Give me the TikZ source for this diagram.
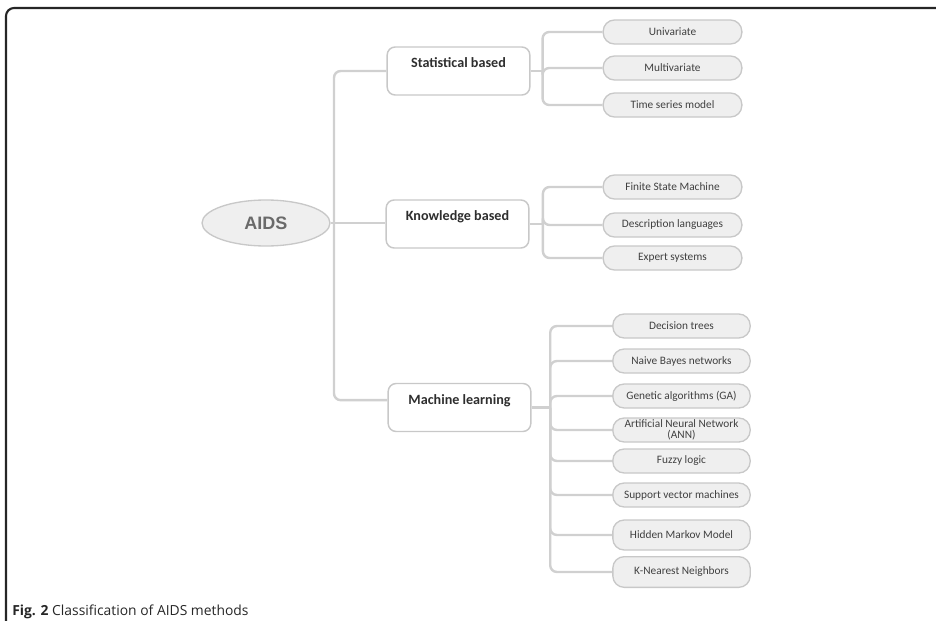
\documentclass[tikz,border=0pt]{standalone}
\usepackage{fontspec}
\setmainfont{Carlito}
\newfontfamily\aidsfont{Liberation Sans}
\newfontfamily\capfont{Open Sans}
\usetikzlibrary{shapes.geometric}

\definecolor{linkgray}{HTML}{D0D0D0}
\definecolor{boxgray}{HTML}{C8C8C8}
\definecolor{leaffill}{HTML}{EFEFEF}
\definecolor{textdark}{HTML}{2E2E2E}
\definecolor{textgray}{HTML}{404040}
\definecolor{aidsgray}{HTML}{6A6A6A}

\tikzset{
  link/.style={draw=linkgray, line width=1.8pt, rounded corners=5pt},
  mainbox/.style={draw=boxgray, fill=white, line width=1.1pt, rounded corners=6pt,
    minimum width=107pt, minimum height=36pt, inner sep=0pt,
    font=\bfseries\fontsize{10.6}{12}\selectfont, text=textdark,
    text height=7.5pt, text depth=12.5pt},
  leafbox/.style={draw=boxgray, fill=leaffill, line width=1pt, rounded corners=8.5pt,
    minimum width=104pt, minimum height=18pt, inner sep=0.5pt, align=center,
    font=\fontsize{8.5}{8.5}\selectfont, text=textgray},
}

\begin{document}
\begin{tikzpicture}[x=0.75pt,y=-0.75pt]
  \useasboundingbox (0,0) rectangle (936,621);

  % Frame
  \draw[line width=1.6pt, color=black!85] (6,625) -- (6,16) arc[start angle=180, end angle=90, radius=6pt] -- (940,8);

  % Root
  \node[ellipse, draw=boxgray, fill=leaffill, line width=1pt, minimum width=96pt, minimum height=34.5pt,
        font=\aidsfont\bfseries\fontsize{13.5}{15}\selectfont, text=aidsgray] (aids) at (266,223) {AIDS};

  % Method families
  \node[mainbox] (stat) at (458.5,71) {Statistical based};
  \node[mainbox] (know) at (457.5,224) {Knowledge based};
  \node[mainbox] (ml) at (459.5,407.5) {Machine learning};

  \coordinate (trunk) at (334,223);
  \draw[link] (aids.east) -- (aids.east -| know.west);
  \draw[link] (stat.west) -| (trunk) |- ([yshift=5.5pt]ml.west);

  % Statistical based
  \node[leafbox] (uni) at (672.5,32) {Univariate};
  \node[leafbox] (multi) at (672.5,68) {Multivariate};
  \node[leafbox] (tsm) at (672.5,105) {Time series model};

  % Knowledge based
  \node[leafbox] (fsm) at (672.5,187) {Finite State Machine};
  \node[leafbox] (desc) at (672.5,225) {Description languages};
  \node[leafbox] (expert) at (672.5,258) {Expert systems};

  % Machine learning
  \node[leafbox, minimum width=103pt] (dt) at (681.5,326) {Decision trees};
  \node[leafbox, minimum width=103pt] (nb) at (681.5,361) {Naive Bayes networks};
  \node[leafbox, minimum width=103pt] (ga) at (681.5,396) {Genetic algorithms (GA)};
  \node[leafbox, minimum width=103pt, inner ysep=0pt, font=\fontsize{8.5}{8}\selectfont] (ann) at (681.5,430) {Artificial Neural Network\\(ANN)};
  \node[leafbox, minimum width=103pt] (fuzzy) at (681.5,461) {Fuzzy logic};
  \node[leafbox, minimum width=103pt] (svm) at (681.5,495) {Support vector machines};
  \node[leafbox, minimum width=103pt, minimum height=22.5pt] (hmm) at (681.5,535) {Hidden Markov Model};
  \node[leafbox, minimum width=103pt, minimum height=23pt] (knn) at (681.5,572) {K-Nearest Neighbors};

  % Brackets
  \draw[link] (stat.east) -- ++(9pt,0) coordinate (sb);
  \foreach \leaf in {uni,multi,tsm}
    \draw[link] (sb) |- (\leaf.west);
  \draw[link] (know.east) -- ++(10pt,0) coordinate (kb);
  \foreach \leaf in {fsm,desc,expert}
    \draw[link] (kb) |- (\leaf.west);
  \draw[link] (ml.east) -- ++(14pt,0) coordinate (mb);
  \foreach \leaf in {dt,nb,ga,ann,fuzzy,svm,hmm,knn}
    \draw[link] (mb) |- (\leaf.west);

  % Caption
  \node[anchor=base west, inner sep=0pt, font=\capfont\fontsize{10.4}{12}\selectfont, text=black!85] (cap) at (12,615)
    {\textbf{Fig. 2} Classification of AIDS methods};
\end{tikzpicture}
\end{document}
